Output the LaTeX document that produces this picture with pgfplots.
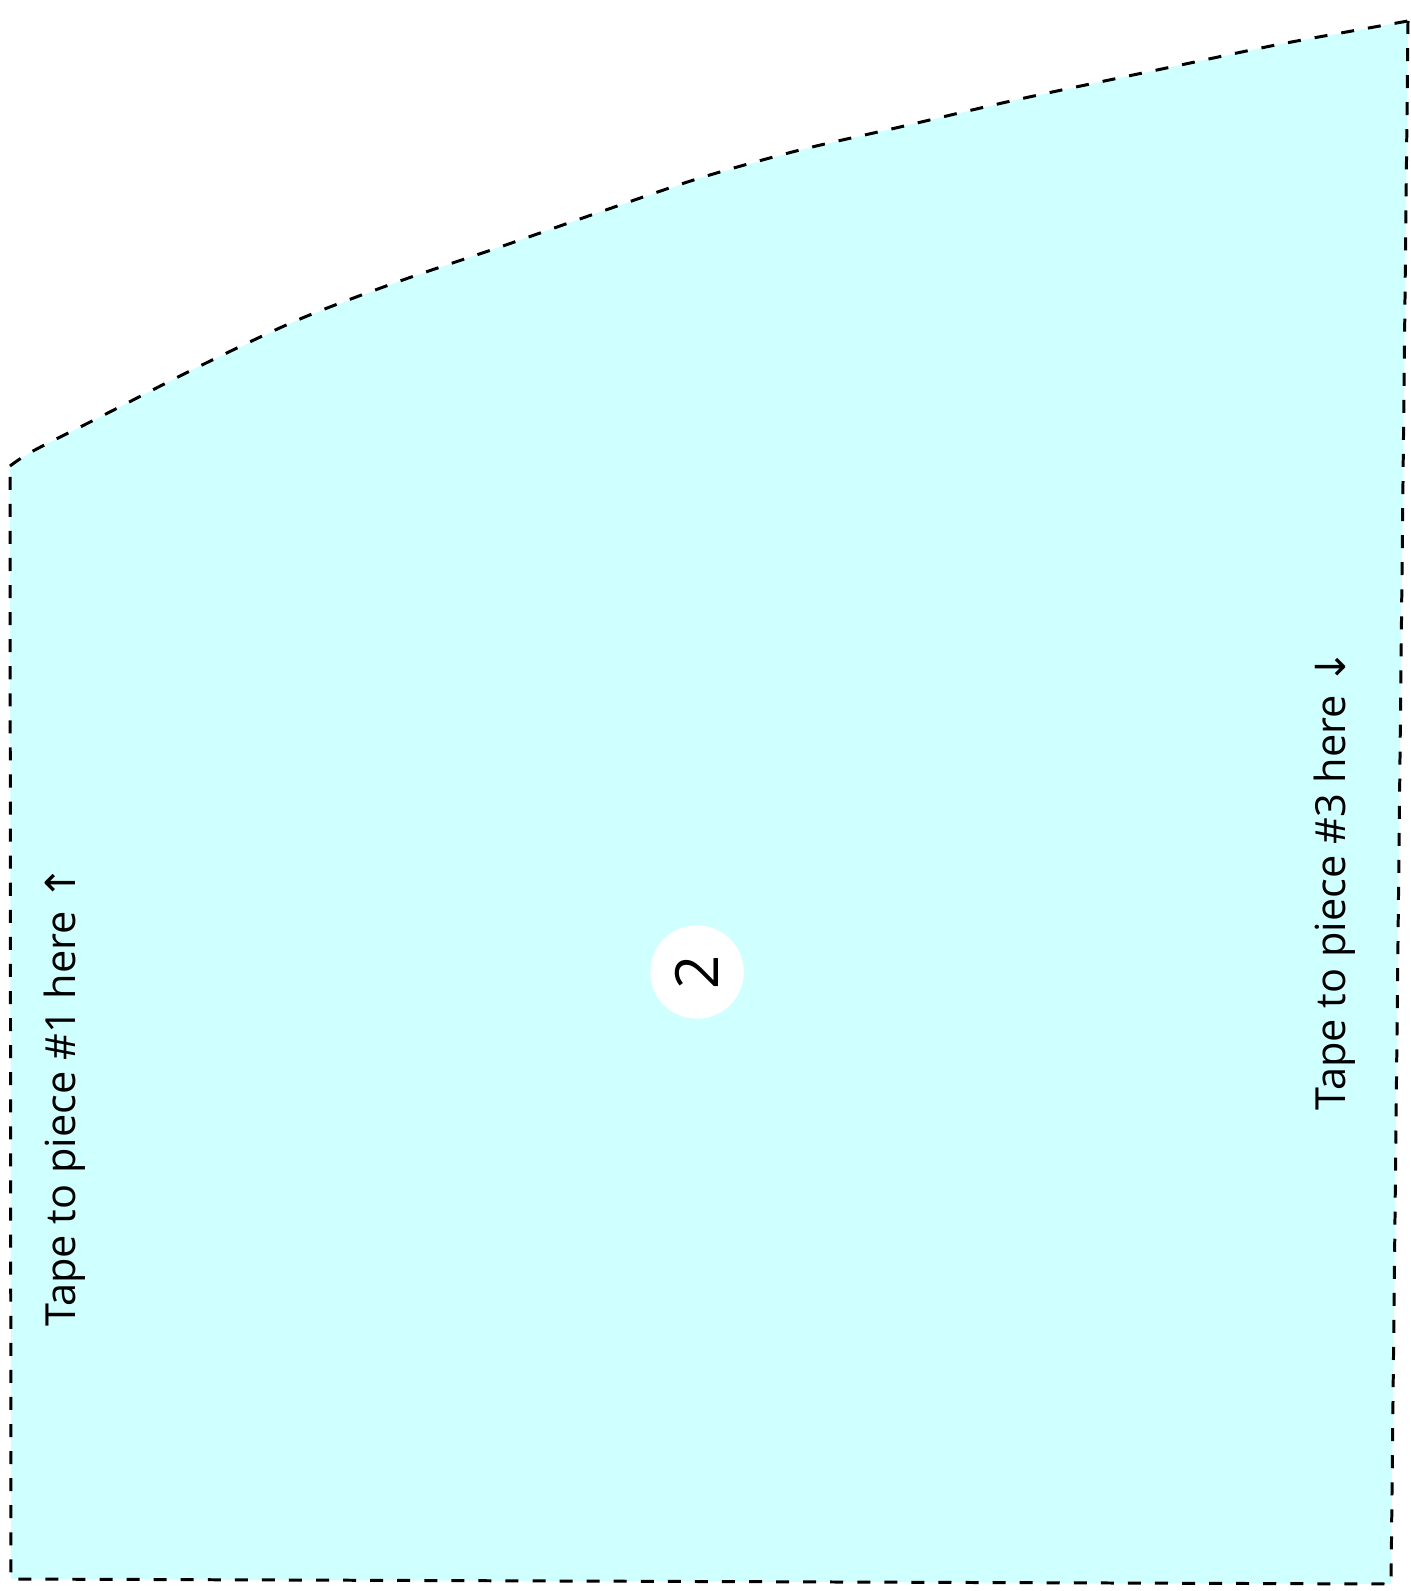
\documentclass[border=0pt]{standalone}
\usepackage{pgfplots}
\pgfplotsset{compat=1.18}
\usepackage{fontspec}
\setmainfont{Open Sans}
\newfontfamily\sym{DejaVu Sans}
\definecolor{piecefill}{RGB}{208,255,255}
\begin{document}
\begin{tikzpicture}
\begin{axis}[
  scale only axis, width=14.1cm, height=15.91cm,
  xmin=0, xmax=1410, ymin=0, ymax=1591, y dir=reverse,
  hide axis, clip=false,
]
% invisible frame for the bounding box
\addplot[draw=none] coordinates {(0,0) (1410,1591)};
% filled piece
\addplot[fill=piecefill, draw=none] coordinates {
 (10,466) (33,451) (100,417) (200,366) (300,319) (400,281) (500,247)
 (600,212) (700,178) (800,150) (900,127) (1020,99) (1176,66) (1281,44) (1408,21)
 (1391,1584) (11,1579) (10,466)
} -- cycle;
% curved top edge
\addplot[smooth, black, line width=0.85pt, dash pattern=on 3.7pt off 4pt] coordinates {
 (10,466) (33,451) (100,417) (200,366) (300,319) (400,281) (500,247)
 (600,212) (700,178) (800,150) (900,127) (1020,99) (1176,66) (1281,44) (1408,21)
};
% straight edges
\addplot[black, line width=0.85pt, dash pattern=on 3.7pt off 4pt] coordinates {
 (1408,21) (1391,1584) (11,1579) (10,466)
};
% number circle with its label
\addplot[white, only marks, mark=*, mark size=13.1pt,
  mark options={fill=white, draw=white},
  nodes near coords={2}, nodes near coords align={center},
  every node near coord/.append style={black, rotate=90, anchor=center,
    font=\fontsize{17}{20}\selectfont}]
  coordinates {(697,972)};
\node[rotate=90, anchor=base, font=\fontsize{11.8}{14}\selectfont] at (axis cs:75,1096) {Tape to piece \#1 here {\sym ↑}};
\node[rotate=90, anchor=base, font=\fontsize{11.8}{14}\selectfont] at (axis cs:1345,880) {Tape to piece \#3 here {\sym ↓}};
\end{axis}
\end{tikzpicture}
\end{document}
